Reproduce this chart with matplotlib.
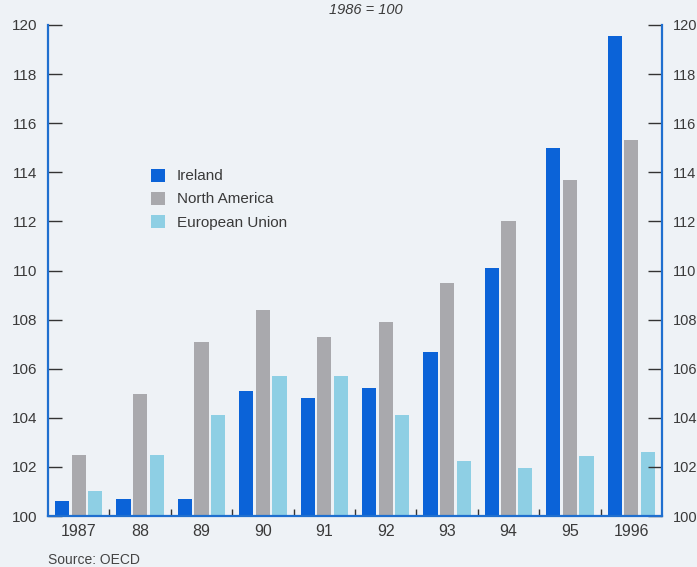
import numpy as np
import matplotlib.pyplot as plt

# valeurs (1986 = 100)
years = ["1987", "88", "89", "90", "91", "92", "93", "94", "95", "1996"]
ireland = [100.6, 100.7, 100.7, 105.1, 104.8, 105.2, 106.7, 110.1, 115.0, 119.55]
north_america = [102.5, 104.95, 107.1, 108.4, 107.3, 107.9, 109.5, 112.0, 113.7, 115.3]
european_union = [101.0, 102.5, 104.1, 105.7, 105.7, 104.1, 102.25, 101.95, 102.45, 102.6]

bg = "#eef2f6"
blue_axis = "#1f6fcf"
c_ire = "#0b63d8"
c_na = "#a9a9ad"
c_eu = "#8ecfe4"
txt = "#3a3a3a"

plt.rcParams["font.family"] = ["Liberation Sans", "DejaVu Sans"]

fig = plt.figure(figsize=(6.97, 5.67), dpi=100, facecolor=bg)
ax = fig.add_axes([48 / 697, 1 - 516 / 567, 614 / 697, 491 / 567], facecolor=bg)

x = np.arange(len(years))
w = 0.23
step = 0.27
ax.bar(x - step, ireland, w, color=c_ire, label="Ireland")
ax.bar(x, north_america, w, color=c_na, label="North America")
ax.bar(x + step, european_union, w, color=c_eu, label="European Union")

ax.set_ylim(100, 120)
ax.set_xlim(-0.5, len(years) - 0.5)

# axes: bleu à gauche, à droite et en bas
for side in ["left", "right", "bottom"]:
    ax.spines[side].set_color(blue_axis)
    ax.spines[side].set_linewidth(1.6)
ax.spines["top"].set_visible(False)

# graduations vers l'intérieur, des deux côtés
ax.set_yticks(np.arange(100, 121, 2))
ax.tick_params(axis="y", direction="in", length=10, width=1.0, color="#333333",
               labelsize=11, labelcolor=txt, pad=8,
               left=True, right=True, labelleft=True, labelright=True)
for t in ax.yaxis.get_major_ticks():
    t.label2.set_fontsize(10.5)

# étiquettes des années au centre des groupes, petits traits entre les groupes
ax.set_xticks(x)
ax.set_xticklabels(years)
ax.tick_params(axis="x", which="major", length=0, labelsize=11.5,
               labelcolor=txt, pad=6)
ax.set_xticks(x[:-1] + 0.5, minor=True)
ax.tick_params(axis="x", which="minor", direction="in", length=5, width=1.0,
               color="#333333")

ax.legend(loc="upper left", bbox_to_anchor=(0.145, 0.735), frameon=False,
          fontsize=11, handlelength=0.9, handleheight=0.9,
          labelspacing=0.55, handletextpad=0.8, labelcolor=txt)

fig.text(0.525, 0.982, "1986 = 100", ha="center", va="center",
         style="italic", fontsize=10.5, color=txt)
fig.text(48 / 697, 1 - 560 / 567, "Source: OECD", ha="left", va="center",
         fontsize=10, color="#444444")

fig.savefig("out.png", dpi=100, facecolor=bg)
